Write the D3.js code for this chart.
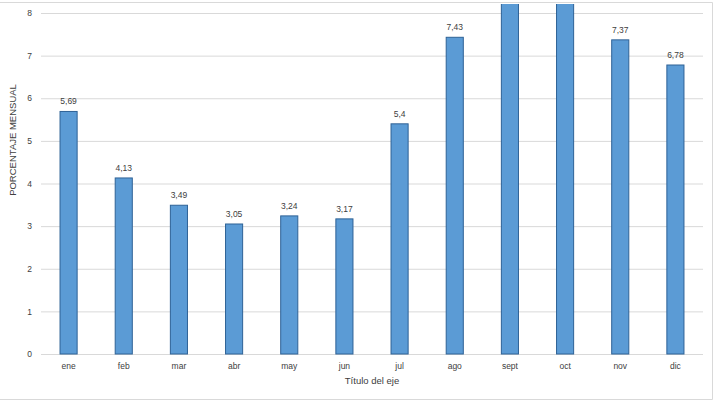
<!DOCTYPE html>
<html lang="es">
<head>
  <meta charset="UTF-8">
  <title>Porcentaje mensual</title>
  <script src="https://cdn.jsdelivr.net/npm/d3@7"></script>
  <style>
    body { margin: 0; background: #fff; }
    text { font-family: "Liberation Sans", Arial, sans-serif; fill: #404040; }
  </style>
</head>
<body>
<svg id="chart"></svg>
<script>
  const months = ["ene", "feb", "mar", "abr", "may", "jun", "jul", "ago", "sept", "oct", "nov", "dic"]
  // sept and oct run off the top of the picture, so their values are guesses
  const values = [5.69, 4.13, 3.49, 3.05, 3.24, 3.17, 5.4, 7.43, 9.3, 9.2, 7.37, 6.78]
  const labels = ["5,69", "4,13", "3,49", "3,05", "3,24", "3,17", "5,4", "7,43", "", "", "7,37", "6,78"]
  const yTicks = [0, 1, 2, 3, 4, 5, 6, 7, 8]

  const width = 717
  const height = 401
  const margin = { top: 13, right: 14, bottom: 47, left: 41 }

  const svg = d3.select("#chart").attr("width", width).attr("height", height)

  // thin frame of the chart area (cropped at the left)
  svg.append("path")
    .attr("d", `M0,2.5H712.5V399.5H0`)
    .attr("fill", "none")
    .attr("stroke", "#d9d9d9")

  svg.append("defs").append("clipPath").attr("id", "plotclip")
    .append("rect").attr("x", 0).attr("y", 4).attr("width", width).attr("height", height)

  const x = d3.scaleBand()
    .domain(months)
    .range([margin.left, width - margin.right])
    .paddingInner(0.69)
    .paddingOuter(0.345)

  const y = d3.scaleLinear()
    .domain([0, 8])
    .range([height - margin.bottom, margin.top])

  // gridlines + tick labels
  const yAxis = svg.append("g")
    .attr("transform", `translate(${margin.left},0)`)
    .call(d3.axisLeft(y).tickValues(yTicks).tickSize(-(width - margin.left - margin.right)).tickPadding(9))
  yAxis.select(".domain").remove()
  yAxis.selectAll(".tick line").attr("stroke", "#d9d9d9")
  yAxis.selectAll(".tick text").attr("font-size", 8.5).attr("fill", "#404040")

  const xAxis = svg.append("g")
    .attr("transform", `translate(0,${height - margin.bottom})`)
    .call(d3.axisBottom(x).tickSize(0).tickPadding(9))
  xAxis.select(".domain").remove()
  xAxis.selectAll(".tick text").attr("font-size", 8.5).attr("fill", "#404040")

  const plot = svg.append("g").attr("clip-path", "url(#plotclip)")

  plot.selectAll("rect.bar")
    .data(values)
    .join("rect")
    .attr("class", "bar")
    .attr("x", (d, i) => x(months[i]))
    .attr("y", d => y(d))
    .attr("width", x.bandwidth())
    .attr("height", d => y(0) - y(d))
    .attr("fill", "#5b9bd5")
    .attr("stroke", "#2e6296")
    .attr("stroke-width", 1)

  plot.selectAll("text.lbl")
    .data(values)
    .join("text")
    .attr("class", "lbl")
    .attr("x", (d, i) => x(months[i]) + x.bandwidth() / 2)
    .attr("y", d => y(d) - 7)
    .attr("text-anchor", "middle")
    .attr("font-size", 8.5)
    .attr("fill", "#222")
    .text((d, i) => labels[i])

  svg.append("text")
    .attr("x", (margin.left + width - margin.right) / 2)
    .attr("y", 384)
    .attr("text-anchor", "middle")
    .attr("font-size", 9.5)
    .attr("fill", "#505050")
    .text("Título del eje")

  svg.append("text")
    .attr("transform", "translate(16,140) rotate(-90)")
    .attr("text-anchor", "middle")
    .attr("font-size", 9.5)
    .attr("fill", "#505050")
    .text("PORCENTAJE MENSUAL")
</script>
</body>
</html>
